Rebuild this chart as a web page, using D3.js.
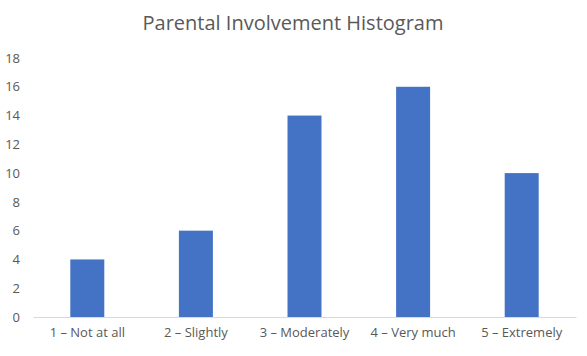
<!DOCTYPE html>
<html><head><meta charset="utf-8">
<script src="https://cdn.jsdelivr.net/npm/d3@7"></script>
<style>body{margin:0;background:#fff}svg{display:block}</style>
</head><body>
<script>
const categories = ["1 – Not at all", "2 – Slightly", "3 – Moderately", "4 – Very much", "5 – Extremely"];
const values = [4, 6, 14, 16, 10];
const yTicks = [0, 2, 4, 6, 8, 10, 12, 14, 16, 18];
const title = "Parental Involvement Histogram";

(function () {
const W = 587, H = 356;
const mLeft = 33, mRight = 576, mTop = 58, mBottom = 317;
const font = "Open Sans, Liberation Sans, sans-serif";

const svg = d3.select("body").append("svg").attr("width", W).attr("height", H);

const x = d3.scaleBand().domain(categories).range([mLeft, mRight]).paddingInner(0.687).paddingOuter(0.3435);
const y = d3.scaleLinear().domain([0, 18]).range([mBottom, mTop]);

svg.append("text").attr("x", 293).attr("y", 30).attr("text-anchor", "middle")
  .attr("font-family", font).attr("font-size", 20).attr("fill", "#595959").text(title);

svg.selectAll("rect.bar").data(values).join("rect").attr("class", "bar")
  .attr("x", (d, i) => x(categories[i])).attr("width", x.bandwidth())
  .attr("y", d => y(d)).attr("height", d => y(0) - y(d)).attr("fill", "#4472C4");

const ya = svg.append("g").attr("transform", `translate(${mLeft},0)`)
  .call(d3.axisLeft(y).tickValues(yTicks).tickSize(0).tickPadding(13));
ya.select(".domain").remove();
ya.selectAll("text").attr("font-family", font).attr("font-size", 13).attr("fill", "#595959");

const xa = svg.append("g").attr("transform", `translate(0,${mBottom})`)
  .call(d3.axisBottom(x).tickSize(0).tickPadding(11));
xa.select(".domain").attr("stroke", "#d9d9d9");
xa.selectAll("text").attr("font-family", font).attr("font-size", 13).attr("fill", "#595959");
})();
</script>
</body></html>
